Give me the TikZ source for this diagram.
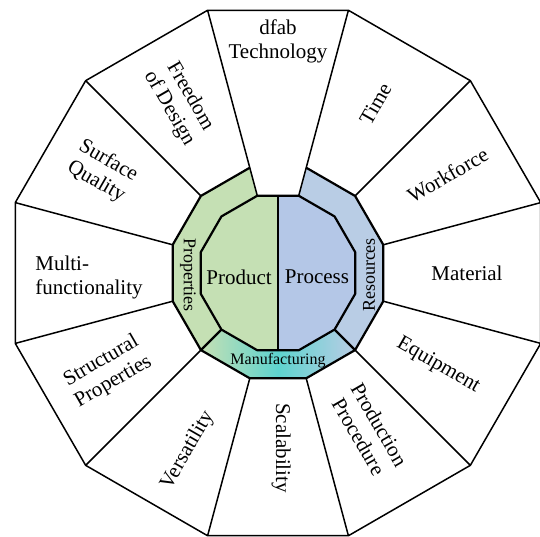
\documentclass[tikz,border=0pt]{standalone}
\usepackage{fontspec}
\setmainfont{Liberation Serif}
\usetikzlibrary{calc}
\usetikzlibrary{positioning}

\definecolor{prodgreen}{HTML}{C5E0B4}
\definecolor{procblue}{HTML}{B4C7E7}
\definecolor{ringblue}{HTML}{B9CDE5}
\definecolor{mfgteal}{HTML}{5ED3CE}

\begin{document}
\begin{tikzpicture}[x=1pt,y=1pt,
      outer/.style={draw=black,line width=1.5pt,line join=miter},
      inner/.style={draw=black,line width=2.2pt,line join=miter},
      seglabel/.style={font=\fontsize{21}{24}\selectfont,align=center,inner sep=0pt},
      ringlabel/.style={font=\fontsize{18}{20}\selectfont,inner sep=0pt},
  ]
  \useasboundingbox (-278,-263) rectangle (262,273);

  % mid points of the core
  \coordinate (coretop) at ($(105:80)!.5!(75:80)$);
  \coordinate (corebot) at ($(255:80)!.5!(285:80)$);

  % ring
  \fill[prodgreen] (105:109) \foreach \a in {135,165,195,225} {-- (\a:109)}
      \foreach \a in {225,195,165,135,105} {-- (\a:80)} -- cycle;
  \fill[ringblue] (75:109) \foreach \a in {45,15,-15,-45} {-- (\a:109)}
      \foreach \a in {-45,-15,15,45,75} {-- (\a:80)} -- cycle;
  \shade[left color=prodgreen,right color=ringblue,middle color=mfgteal]
      (225:109) \foreach \a in {255,285,315} {-- (\a:109)}
      \foreach \a in {315,285,255,225} {-- (\a:80)} -- cycle;

  % core
  \fill[prodgreen] (coretop) \foreach \a in {105,135,...,255} {-- (\a:80)} -- (corebot) -- cycle;
  \fill[procblue] (coretop) \foreach \a in {75,45,...,-75} {-- (\a:80)} -- (corebot) -- cycle;

  % outer frame and spokes
  \draw[outer] (15:272) \foreach \a in {45,75,...,345} {-- (\a:272)} -- cycle;
  \foreach \a/\r in {15/109,45/109,75/80,105/80,135/109,165/109,
                     195/109,225/109,255/109,285/109,315/109,345/109}
    \draw[outer] (\a:272) -- (\a:\r);

  % ring and core outlines
  \draw[inner] (105:109) \foreach \a in {135,165,...,435} {-- (\a:109)};
  \draw[inner] (15:80) \foreach \a in {45,75,...,345} {-- (\a:80)} -- cycle;
  \draw[inner] (225:80) -- (225:109);
  \draw[inner] (315:80) -- (315:109);
  \draw[outer] (coretop) -- (corebot);

  % segment texts
  \foreach \a/\r/\rot/\txt in {
      90/232/0/{dfab\\Technology},
      60/195/60/Time,
      30/196/30/Workforce,
      0/189/0/Material,
      -30/185/-30/Equipment,
      -60/182/-60/{Production\\Procedure},
      -89/175/-90/Scalability,
      -117/199/60/Versatility,
      -150/197/30/{Structural\\Properties},
      150/203/-30/{Surface\\Quality},
      120/197/-60/{Freedom\\of Design}}
    \node[seglabel,rotate=\rot] (seg\a) at (\a:\r) {\txt};
  \node[seglabel,align=left] (segmulti) at (-189,-4) {Multi-\\functionality};

  % ring and core texts
  \node[ringlabel,rotate=-90] (properties) at (-90,-2) {Properties};
  \node[ringlabel,rotate=90] (resources) at (91,-2) {Resources};
  \node[ringlabel,font=\fontsize{16}{18}\selectfont] (manufacturing) at (0,-88) {Manufacturing};
  \node[seglabel] (product) at (-39,-4) {Product};
  \node[seglabel] (process) at (39,-4) {Process};
\end{tikzpicture}
\end{document}
